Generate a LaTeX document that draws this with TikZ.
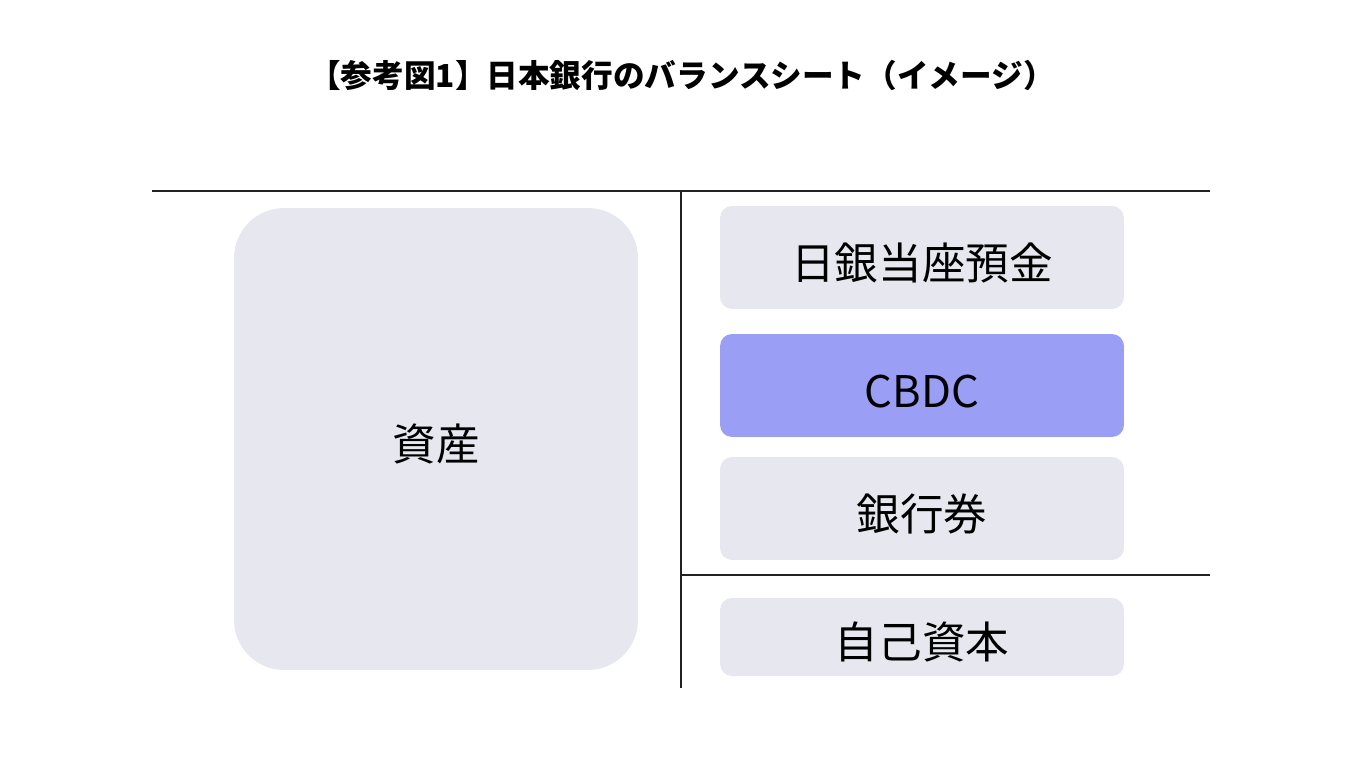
\documentclass[tikz,border=0pt]{standalone}
\usepackage{fontspec}
\setmainfont{Noto Sans CJK JP}
\usepackage{tikz}
\definecolor{boxgray}{HTML}{E7E7EF}
\definecolor{cbdcblue}{HTML}{9B9EF5}
\definecolor{linegray}{HTML}{222222}
\tikzset{
  item/.style={fill=boxgray,rounded corners=0.24cm,minimum width=8.08cm,font=\fontsize{24.8}{29}\selectfont,inner sep=0pt,text height=25pt,text depth=0pt},
  tline/.style={draw=linegray,line width=1.2pt}
}
\begin{document}
\begin{tikzpicture}[x=0.02cm,y=-0.02cm]
\useasboundingbox (0,0) rectangle (1372,774);
\node[font=\bfseries\fontsize{18}{21}\selectfont] (title) at (682,75) {【参考図1】日本銀行のバランスシート（イメージ）};
% T account
\draw[tline] (152,191)--(1210,191);
\draw[tline] (681,191)--(681,688);
\draw[tline] (681,575)--(1210,575);
\node[item,rounded corners=1cm,minimum height=9.24cm] (assets) at (436,439) {資産};
\node[item,minimum height=2.06cm] (deposits) at (922,257.5) {日銀当座預金};
\node[item,fill=cbdcblue,minimum height=2.06cm] (cbdc) at (922,385.5) {CBDC};
\node[item,minimum height=2.06cm] (notes) at (922,508.5) {銀行券};
\node[item,minimum height=1.56cm] (equity) at (922,637) {自己資本};
\end{tikzpicture}
\end{document}
